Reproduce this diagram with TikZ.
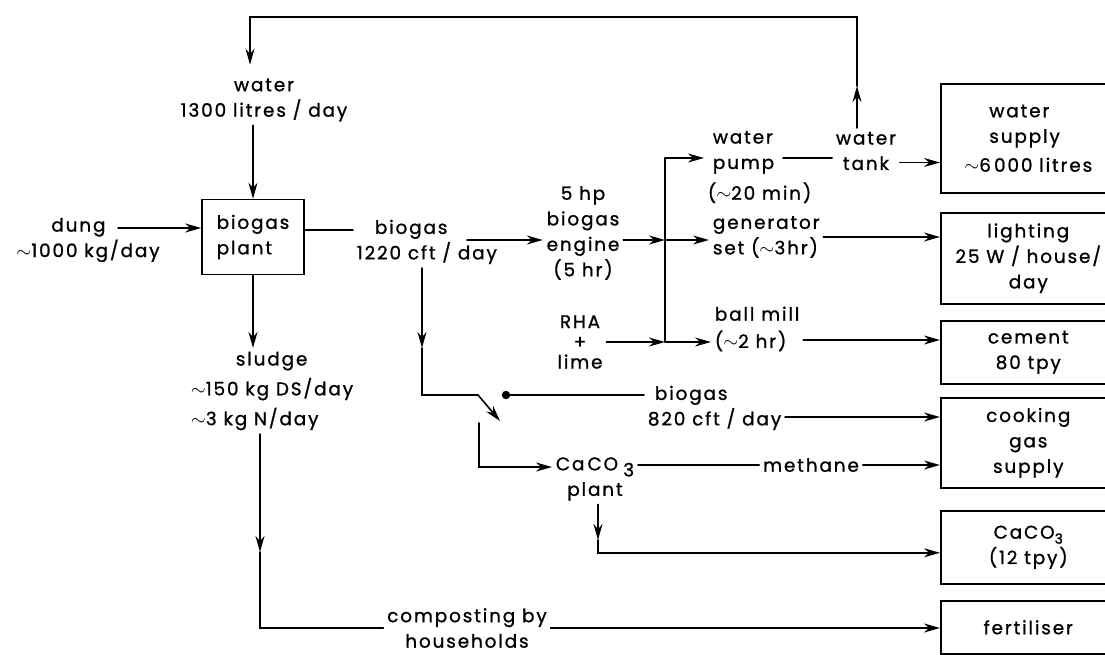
\documentclass[tikz,border=0pt]{standalone}
\usepackage{fontspec}
\setmainfont{Poppins}[LetterSpace=10, FakeBold=1]
\usetikzlibrary{arrows.meta,positioning,calc}
\tikzset{
  flowln/.style={line width=0.9pt, line cap=round},
  flow/.style={flowln, -{Stealth[length=3.2mm,width=1.8mm]}},
  lbl/.style={inner sep=2pt, align=center, font=\fontsize{10.5}{14.5}\selectfont},
  outbox/.style={lbl, draw, line width=0.9pt, anchor=north west, minimum width=3.5cm},
}
\newcommand{\subthree}{\raisebox{-0.5ex}{\fontsize{8}{8}\selectfont 3}}

\begin{document}
\begin{tikzpicture}[x=0.02cm, y=-0.02cm]
  \useasboundingbox (0,0) rectangle (1105,655);
  % inputs and biogas plant
  \node[lbl] (water) at (264,100) {water\\1300 litres / day};
  \node[lbl, align=left] (dung) at (88,240) {\hspace*{0.7cm}dung\\$\sim$1000 kg/day};
  \node[lbl, draw, line width=0.9pt, align=left, minimum width=2.04cm, minimum height=1.5cm] (plant) at (253,237) {biogas\\plant};
  \node[lbl, align=left, font=\fontsize{10.5}{17}\selectfont] (sludge) at (272,391) {\hspace*{0.9cm}sludge\\$\sim$150 kg DS/day\\$\sim$3 kg N/day};
  \node[lbl, align=left, anchor=west] (bgas) at (353,242) {\hspace*{0.36cm}biogas\\1220 cft / day};
  % engine and its users
  \node[lbl] (engine) at (583,233) {5 hp\\biogas\\engine\\(5 hr)};
  \node[lbl, font=\fontsize{10.5}{11.5}\selectfont] (rha) at (580,342) {RHA\\+\\lime};
  \node[lbl, align=left, anchor=west] (pump) at (704,167) {\hspace*{0.1cm}water\\\hspace*{0.1cm}pump\\[3pt]($\sim$20 min)};
  \node[lbl, align=left, anchor=west] (gen) at (709,237) {generator\\set ($\sim$3hr)};
  \node[lbl, align=left, anchor=west] (mill) at (711,329) {ball mill\\[1pt]($\sim$2 hr)};
  \node[lbl] (tank) at (866,151) {water\\tank};
  % second biogas branch
  \node[lbl, align=left, anchor=west] (bg820) at (644,408) {\hspace*{0.14cm}biogas\\820 cft / day};
  \node[lbl] (caplant) at (595,479) {Ca\,CO\;\raisebox{-0.6ex}{3}\\plant};
  \node[lbl] (methane) at (811,465) {methane};
  \node[lbl] (compost) at (467,628) {composting by\\households};
  % outputs
  \node[outbox, align=left, minimum height=2.18cm] (supply) at (940,83) {\hspace*{0.5cm}water\\\hspace*{0.5cm}supply\\[2pt]$\sim$6\,000 litres};
  \node[outbox, minimum height=1.82cm] (light) at (940,212) {lighting\\25 W / house/\\day};
  \node[outbox, minimum height=1.26cm] (cement) at (940,320) {cement\\80 tpy};
  \node[outbox, minimum height=1.8cm] (cook) at (940,397) {cooking\\gas\\supply};
  \node[outbox, minimum height=1.46cm] (caout) at (940,510) {CaCO\subthree\\(12 tpy)};
  \node[outbox, minimum height=1.06cm] (fert) at (940,600) {fertiliser};

  % free ends and bends
  \coordinate (dungout) at (118,228);
  \coordinate (bgout) at (467,240);
  \coordinate (looptop) at (250,17);
  \coordinate (tankup) at (857,86);
  \coordinate (jtop) at (665,158);
  \coordinate (jmid) at (665,240);
  \coordinate (jbot) at (665,342);
  \coordinate (pumpout) at (783,158);
  \coordinate (sldarr) at (260,552);
  \coordinate (bgdarr) at (422,348);
  \coordinate (bgturn) at (478,395);
  \coordinate (bgtip) at (500,421);
  \coordinate (dotend) at (506,395);
  \coordinate (cafeed) at (479,423);
  \coordinate (cadarr) at (598,540);

  % plant
  \draw[flow] (dungout) -- (dungout -| plant.west);
  \draw[flow] (water.south -| plant.north) -- (plant.north);
  \draw[flowln] ([yshift=0.14cm]plant.east) -- ([yshift=0.14cm]plant.east -| bgas.west);
  \draw[flow] (plant.south) -- (plant.south |- sludge.north);
  \draw[flow] (sludge.south -| sldarr) -- (sldarr);
  \draw[flowln] (sldarr) |- (compost.west);
  \draw[flow] (compost.east) -- (compost.east -| fert.west);
  % water loop
  \draw[flow] (tank.north -| tankup) -- (tankup);
  \draw[flow] (tankup) |- (looptop) -- ([yshift=0.2cm]looptop |- water.north);
  % engine
  \draw[flow] (bgout) -- (bgout -| engine.west);
  \draw[flow] (engine.east |- jmid) -- (jmid);
  \draw[flowln] (jtop) -- (jbot);
  \draw[flow] (jtop) -- (jtop -| pump.west);
  \draw[flow] (jmid) -- (jmid -| gen.west);
  \draw[flow] (rha.east |- jbot) -- (jbot);
  \draw[flow] (jbot) -- (jbot -| mill.west);
  \draw[flowln] (pumpout) -- (pumpout -| tank.west);
  \draw[flow] ([yshift=-0.23cm]tank.east) -- ([yshift=-0.23cm]tank.east -| supply.west);
  \draw[flow] (gen.east) -- (gen.east -| light.west);
  \draw[flow] ([yshift=-0.22cm]mill.east) -- ([yshift=-0.22cm]mill.east -| cement.west);
  % second branch
  \draw[flow] (bgas.south -| bgdarr) -- (bgdarr);
  \draw[flow] (bgdarr) |- (bgturn) -- (bgtip);
  \fill (dotend) circle (2.4pt);
  \draw[flowln] (dotend) -- (dotend -| bg820.west);
  \draw[flow] ([yshift=-0.18cm]bg820.east) -- ([yshift=-0.18cm]bg820.east -| cook.west);
  \draw[flow] (cafeed) |- ([yshift=0.24cm]caplant.west);
  \draw[flowln] (caplant.east |- methane) -- (methane.west);
  \draw[flow] (methane.east) -- (methane.east -| cook.west);
  \draw[flow] (caplant.south -| cadarr) -- (cadarr);
  \draw[flow] (cadarr) |- ([yshift=-0.11cm]caout.west);
\end{tikzpicture}
\end{document}
